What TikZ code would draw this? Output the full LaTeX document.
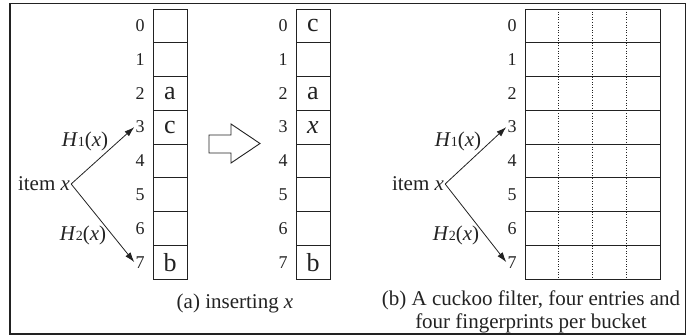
\documentclass[tikz,border=0pt]{standalone}
\usepackage{fontspec}
\setmainfont{Liberation Serif}
\usetikzlibrary{arrows.meta,calc}
\definecolor{ink}{HTML}{222222}
\tikzset{
  cell/.style={draw=ink, line width=0.9pt, minimum width=34pt, minimum height=33.75pt, inner sep=0pt, outer sep=0pt, font=\fontsize{26}{26}\selectfont, text=ink},
  wide/.style={cell, minimum width=135pt},
  idx/.style={font=\fontsize{18}{18}\selectfont, text=ink, inner sep=1pt},
  lbl/.style={font=\fontsize{21}{21}\selectfont, text=ink, inner sep=1pt},
  hash/.style={-{Latex[length=10pt,width=6.5pt]}, line width=0.8pt, draw=ink},
  captxt/.style={font=\fontsize{21}{23}\selectfont, text=ink, align=center},
}
\newcommand{\Hf}[1]{\textit{H}{\fontsize{14}{14}\selectfont #1}(\textit{x})}
\begin{document}
\begin{tikzpicture}[x=1pt,y=-1pt]
\useasboundingbox (0,0) rectangle (689,336);
\draw[draw=ink, line width=1.3pt] (10,3.5) rectangle (685.5,334);
% left array
\foreach \i/\t in {0/,1/,2/a,3/c,4/,5/,6/,7/b}{
  \node[cell] (a\i) at (170,{9+33.75*\i+16.875}) {\t};
  \node[idx] (na\i) at (140,{9+33.75*\i+16.875}) {\i};
}
% middle array
\foreach \i/\t in {0/c,1/,2/a,3/\textit{x},4/,5/,6/,7/b}{
  \node[cell] (b\i) at (313,{9+33.75*\i+16.875}) {\t};
  \node[idx] (nb\i) at (283,{9+33.75*\i+16.875}) {\i};
}
% right array
\foreach \i in {0,...,7}{
  \node[wide] (c\i) at (592.5,{9+33.75*\i+16.875}) {};
  \node[idx] (nc\i) at (512,{9+33.75*\i+16.875}) {\i};
}
\foreach \k in {1,2,3}{
  \draw[ink, dotted, line width=0.6pt] ($(c0.north west)!{\k/4}!(c0.north east)$) -- ($(c7.south west)!{\k/4}!(c7.south east)$);
}
% hollow arrow
\draw[draw=ink, line width=0.9pt, fill=white] (209,135) -- (231,135) -- (231,124) -- (260,143.5) -- (231,163) -- (231,153) -- (209,153) -- cycle;
% items
\node[lbl] (ia) at (44,184) {item \textit{x}};
\node[lbl] (ib) at (418,184) {item \textit{x}};
\draw[hash] (ia.east) -- (na3.west);
\draw[hash] (ia.east) -- (na7.west);
\draw[hash] (ib.east) -- (nc3.west);
\draw[hash] (ib.east) -- (nc7.west);
\node[lbl] (h1a) at (85,141) {\Hf{1}};
\node[lbl] (h2a) at (83,235) {\Hf{2}};
\node[lbl] (h1b) at (458,141) {\Hf{1}};
\node[lbl] (h2b) at (456,235) {\Hf{2}};
% captions
\node[captxt] (capa) at (235,303) {(a) inserting \textit{x}};
\node[captxt] (capb) at (531,312) {(b) A cuckoo filter, four entries and\\four fingerprints per bucket};
\end{tikzpicture}
\end{document}
